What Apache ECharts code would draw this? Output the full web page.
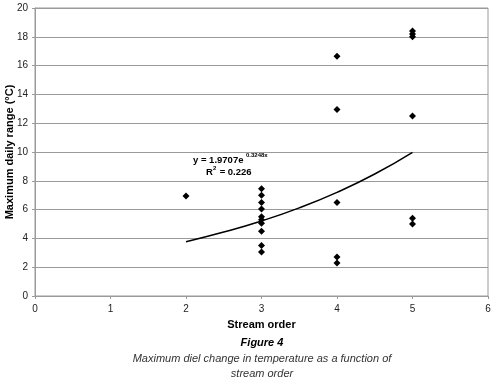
<!DOCTYPE html>
<html>
<head>
<meta charset="utf-8">
<script src="https://cdn.jsdelivr.net/npm/echarts@6/dist/echarts.min.js"></script>
<style>
  html, body { margin: 0; padding: 0; background: #fff; }
  #chart { width: 496px; height: 384px; }
</style>
</head>
<body>
<div id="chart"></div>
<script>
// stream order of each site and its maximum daily range (°C)
var streamOrder = [2, 3, 3, 3, 3, 3, 3, 3, 3, 3, 3, 4, 4, 4, 4, 4, 5, 5, 5, 5, 5, 5];
var dailyRange  = [6.95, 7.45, 7.0, 6.5, 6.05, 5.5, 5.3, 5.05, 4.5, 3.5, 3.05, 16.65, 12.95, 6.5, 2.7, 2.3, 18.4, 18.2, 18.0, 12.5, 5.4, 5.0];

// exponential trend line
var trendX = [2, 2.5, 3, 3.5, 4, 4.5, 5];
var trendY = [3.77, 4.44, 5.21, 6.12, 7.2, 8.47, 9.98];

var xTicks = [0, 1, 2, 3, 4, 5, 6];
var yMax = 20;

var font = '"Liberation Sans", Arial, sans-serif';
var chart = echarts.init(document.getElementById('chart'));

var points = streamOrder.map(function (x, i) { return [x, dailyRange[i]]; });
var trend = trendX.map(function (x, i) { return [x, trendY[i]]; });

function txt(x, y, s, f, extra) {
    var style = { text: s, x: x, y: y, font: f, fill: '#000', verticalAlign: 'top' };
    for (var k in extra) style[k] = extra[k];
    return { type: 'text', style: style, z: 10 };
}

chart.setOption({
    animation: false,
    grid: {
        left: 35, right: 8, top: 8, bottom: 88,
        containLabel: false, outerBoundsMode: 'none',
        show: true, borderColor: '#9a9a9a', borderWidth: 1
    },
    xAxis: {
        type: 'value',
        min: xTicks[0],
        max: xTicks[xTicks.length - 1],
        interval: 1,
        name: 'Stream order',
        nameLocation: 'middle',
        nameGap: 23,
        nameMoveOverlap: false,
        nameTextStyle: { fontFamily: font, fontSize: 11, fontWeight: 'bold', color: '#000' },
        axisLine: { lineStyle: { color: '#9a9a9a' } },
        axisTick: { show: true, length: 3, lineStyle: { color: '#9a9a9a' } },
        axisLabel: { fontFamily: font, fontSize: 10, color: '#222', margin: 8 },
        splitLine: { show: false }
    },
    yAxis: {
        type: 'value',
        min: 0,
        max: yMax,
        interval: 2,
        name: 'Maximum daily range (°C)',
        nameLocation: 'middle',
        nameGap: 20,
        nameMoveOverlap: false,
        nameTextStyle: { fontFamily: font, fontSize: 11, fontWeight: 'bold', color: '#000' },
        axisLine: { show: true, lineStyle: { color: '#9a9a9a' } },
        axisTick: { show: true, length: 3, lineStyle: { color: '#9a9a9a' } },
        axisLabel: { fontFamily: font, fontSize: 10, color: '#222', margin: 7 },
        splitLine: { show: true, lineStyle: { color: '#9a9a9a', width: 1 } }
    },
    series: [
        {
            type: 'line',
            data: trend,
            smooth: true,
            showSymbol: false,
            lineStyle: { color: '#000', width: 1.5 },
            z: 2
        },
        {
            type: 'scatter',
            data: points,
            symbol: 'diamond',
            symbolSize: 7,
            itemStyle: { color: '#000', opacity: 1 },
            z: 3
        }
    ],
    graphic: [
        txt(193, 155, 'y = 1.9707e', 'bold 9.5px ' + font),
        txt(246, 152, '0.3248x', 'bold 6px ' + font),
        txt(206, 167, 'R', 'bold 9.5px ' + font),
        txt(213, 165, '2', 'bold 6px ' + font),
        txt(217, 167, ' = 0.226', 'bold 9.5px ' + font),
        txt(262, 337, 'Figure 4', 'italic bold 11px ' + font, { align: 'center' }),
        txt(262, 353, 'Maximum diel change in temperature as a function of', 'italic 11px ' + font, { align: 'center', fill: '#333' }),
        txt(262, 368, 'stream order', 'italic 11px ' + font, { align: 'center', fill: '#333' })
    ]
});
</script>
</body>
</html>
